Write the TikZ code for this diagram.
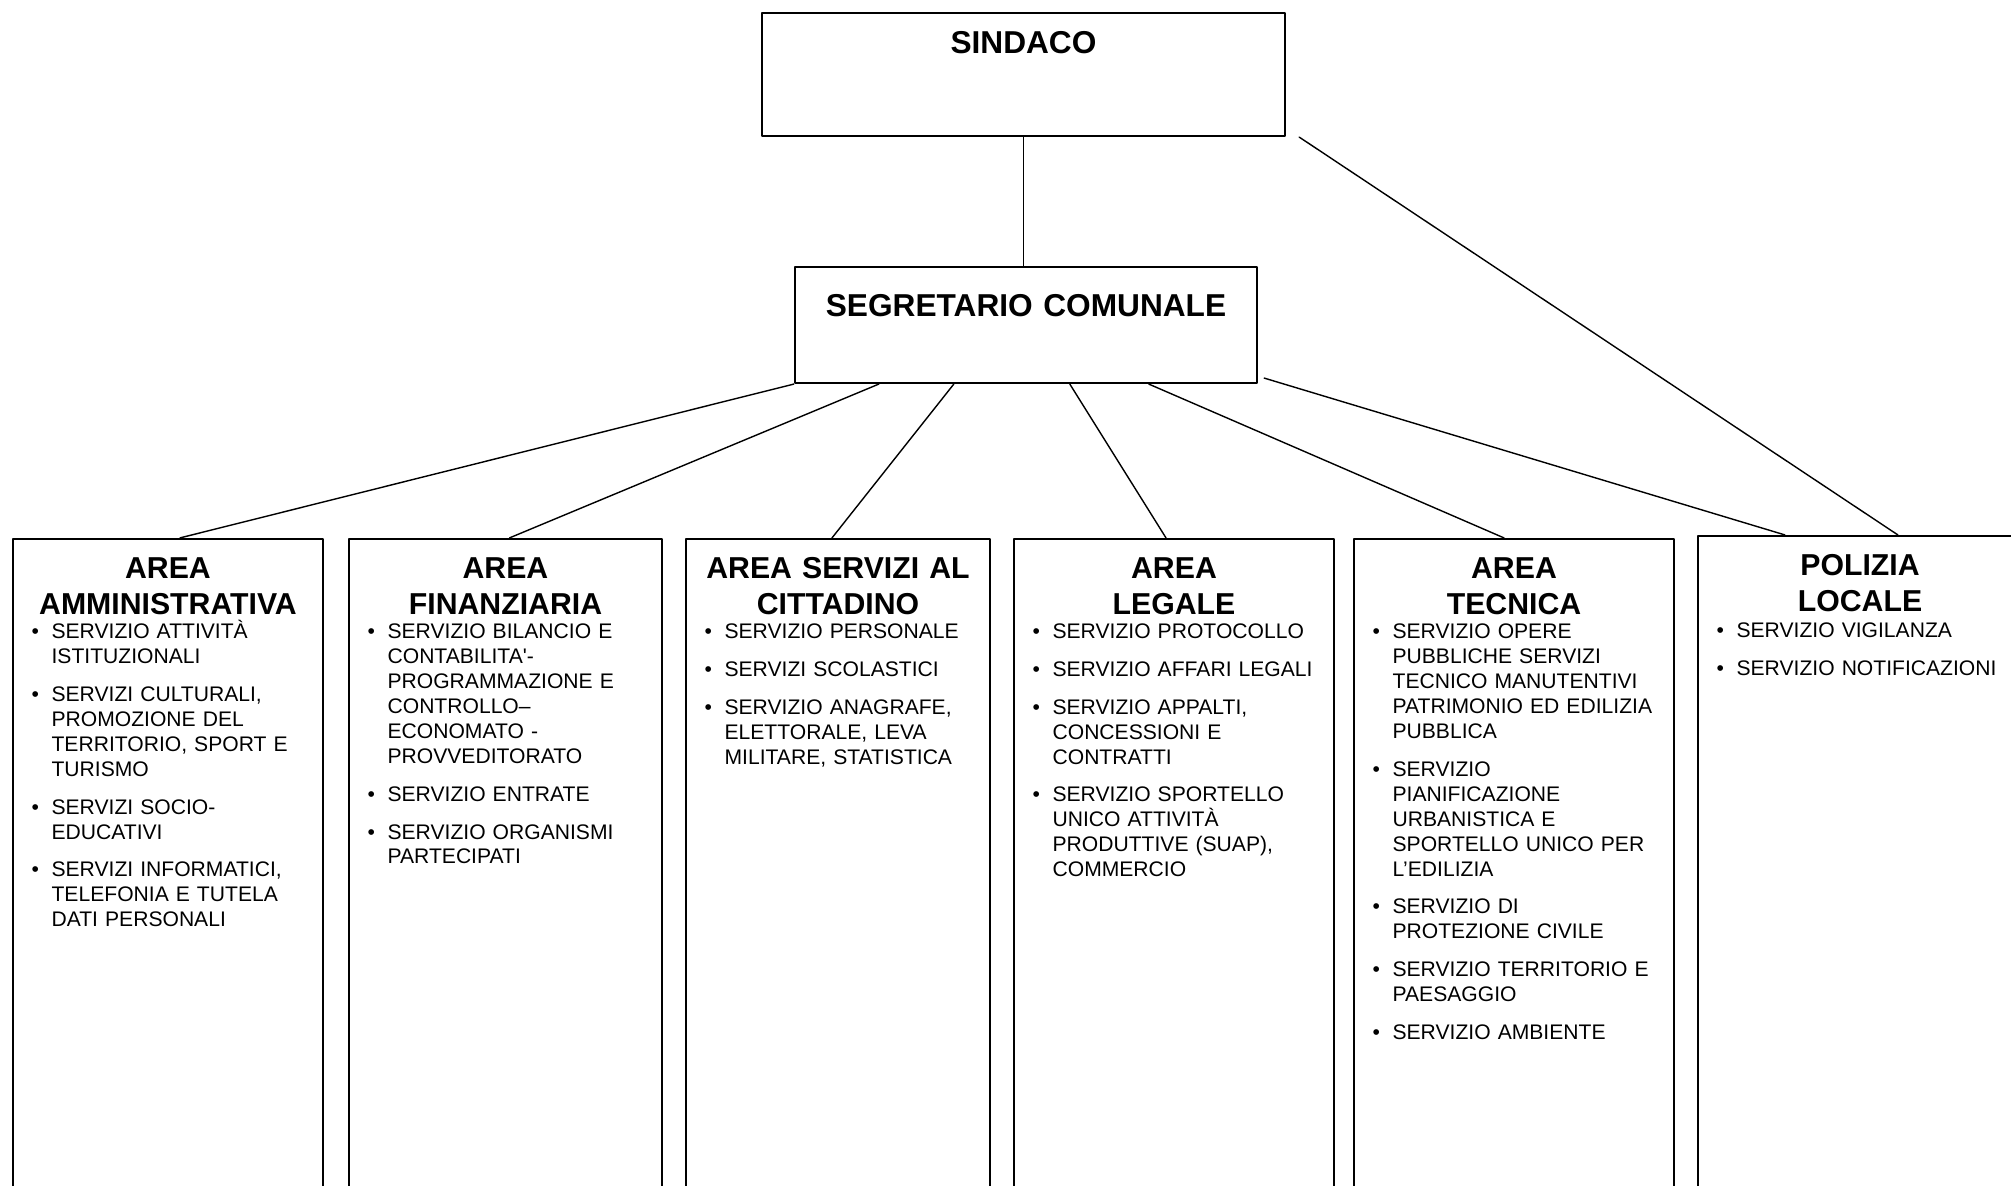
\documentclass[tikz,border=0pt]{standalone}
\usepackage{fontspec}
\setmainfont{Liberation Sans}
\usetikzlibrary{calc}
\newcommand{\voce}[1]{\hangindent=5.7pt\hangafter=1\noindent\makebox[5.7pt][l]{\textbullet}#1\par\vspace{3.6pt}}

\begin{document}
\begin{tikzpicture}[x=0.01cm,y=-0.01cm,line join=round,line cap=round]
	\tikzset{box/.style={draw,line width=0.6pt,inner sep=0pt,anchor=base,align=center},
		capo/.style={box,font=\fontsize{9}{10.5}\selectfont\bfseries},
		area/.style={box,text height=0.40cm,text depth=6.6cm,font=\fontsize{8.6}{10}\selectfont\bfseries},
		lista/.style={anchor=base west,inner sep=0pt,align=left,font=\fontsize{6}{7.1}\selectfont},
		link/.style={line width=0.4pt}}
	\path[use as bounding box] (0,0) rectangle (2011,1186);
	\clip (0,0) rectangle (2011,1186);
	\node[capo,text width=5.23cm,text height=0.407cm,text depth=0.823cm] (sindaco) at (1023.5,53.7) {SINDACO};
	\node[capo,text width=4.62cm,text height=0.495cm,text depth=0.665cm] (segr) at (1026,316.5) {SEGRETARIO COMUNALE};
	\node[area,text width=3.10cm] (amm) at (168,579) {AREA\\AMMINISTRATIVA};
	\node[area,text width=3.13cm] (fin) at (505.5,579) {AREA\\FINANZIARIA};
	\node[area,text width=3.04cm] (serv) at (838,579) {AREA SERVIZI AL\\CITTADINO};
	\node[area,text width=3.20cm] (leg) at (1174,579) {AREA\\LEGALE};
	\node[area,text width=3.20cm] (tec) at (1514,579) {AREA\\TECNICA};
	\node[area,text width=3.24cm] (pol) at (1860,576) {POLIZIA\\LOCALE};
	\node[lista,text width=2.85cm] (ammlista) at ($(amm.north west)+(19,101)$) {%
		\voce{SERVIZIO ATTIVITÀ\newline ISTITUZIONALI}
		\voce{SERVIZI CULTURALI,\newline PROMOZIONE DEL\newline TERRITORIO, SPORT E\newline TURISMO}
		\voce{SERVIZI SOCIO-\newline EDUCATIVI}
		\voce{SERVIZI INFORMATICI,\newline TELEFONIA E TUTELA\newline DATI PERSONALI}};
	\node[lista,text width=2.88cm] (finlista) at ($(fin.north west)+(19,101)$) {%
		\voce{SERVIZIO BILANCIO E\newline CONTABILITA\textquotesingle-\newline PROGRAMMAZIONE E\newline CONTROLLO–\newline ECONOMATO -\newline PROVVEDITORATO}
		\voce{SERVIZIO ENTRATE}
		\voce{SERVIZIO ORGANISMI\newline PARTECIPATI}};
	\node[lista,text width=2.80cm] (servlista) at ($(serv.north west)+(19,101)$) {%
		\voce{SERVIZIO PERSONALE}
		\voce{SERVIZI SCOLASTICI}
		\voce{SERVIZIO ANAGRAFE,\newline ELETTORALE, LEVA\newline MILITARE, STATISTICA}};
	\node[lista,text width=2.95cm] (leglista) at ($(leg.north west)+(19,101)$) {%
		\voce{SERVIZIO PROTOCOLLO}
		\voce{SERVIZIO AFFARI LEGALI}
		\voce{SERVIZIO APPALTI,\newline CONCESSIONI E\newline CONTRATTI}
		\voce{SERVIZIO SPORTELLO\newline UNICO ATTIVITÀ\newline PRODUTTIVE (SUAP),\newline COMMERCIO}};
	\node[lista,text width=2.95cm] (teclista) at ($(tec.north west)+(19,101)$) {%
		\voce{SERVIZIO OPERE\newline PUBBLICHE SERVIZI\newline TECNICO MANUTENTIVI\newline PATRIMONIO ED EDILIZIA\newline PUBBLICA}
		\voce{SERVIZIO\newline PIANIFICAZIONE\newline URBANISTICA E\newline SPORTELLO UNICO PER\newline L’EDILIZIA}
		\voce{SERVIZIO DI\newline PROTEZIONE CIVILE}
		\voce{SERVIZIO TERRITORIO E\newline PAESAGGIO}
		\voce{SERVIZIO AMBIENTE}};
	\node[lista,text width=2.95cm] (pollista) at ($(pol.north west)+(19,102.5)$) {%
		\voce{SERVIZIO VIGILANZA}
		\voce{SERVIZIO NOTIFICAZIONI}};
	\draw[link] (sindaco.south) -- (sindaco.south |- segr.north);
	\draw[link] (segr.south west) -- ($(amm.north)+(12,0)$);
	\draw[link] ($(segr.south west)+(85,0)$) -- ($(fin.north)+(4,0)$);
	\draw[link] ($(segr.south west)+(160,0)$) -- ($(serv.north)+(-6,0)$);
	\draw[link] ($(segr.south west)+(276,0)$) -- ($(leg.north)+(-8,0)$);
	\draw[link] ($(segr.south west)+(355,0)$) -- ($(tec.north)+(-10,0)$);
	\draw[link] ($(segr.south east)+(6,-6)$) -- ($(pol.north west)+(88,0)$);
	\draw[link] ($(sindaco.south east)+(13,0)$) -- ($(pol.north west)+(201,0)$);
\end{tikzpicture}
\end{document}
